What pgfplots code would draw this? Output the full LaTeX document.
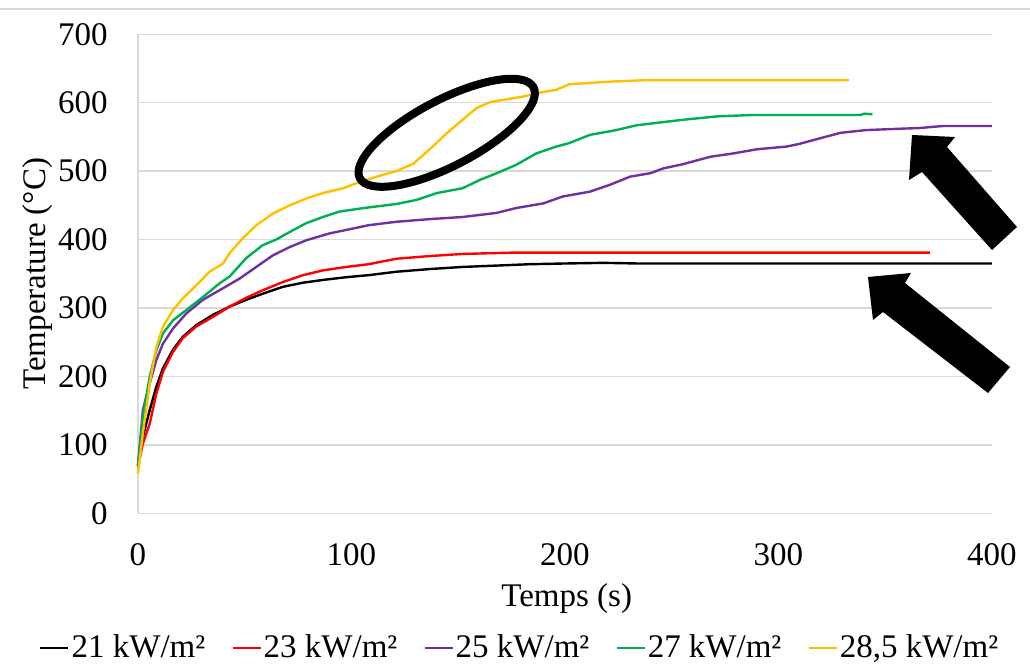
\documentclass[border=0pt]{standalone}
\usepackage{fontspec}
\setmainfont{Liberation Serif}
\usepackage{pgfplots}
\pgfplotsset{compat=1.18}
\definecolor{cpurple}{HTML}{7030A0}
\definecolor{cgreen}{HTML}{00B050}
\definecolor{cyellow}{HTML}{FFC000}
\definecolor{cred}{HTML}{FF0000}
\definecolor{cgrid}{HTML}{D9D9D9}
\newcommand{\fs}{\fontsize{16.5}{19}\selectfont}
\begin{document}
\begin{tikzpicture}
\begin{axis}[
  scale only axis, width=427pt, height=239.5pt,
  xmin=0, xmax=400, ymin=0, ymax=700,
  xtick={0,100,...,400}, ytick={0,100,...,700},
  axis x line*=bottom, axis y line*=left,
  axis line style={-, draw=cgrid, line width=0.75pt},
  ymajorgrids, grid style={draw=cgrid, line width=0.75pt},
  major tick length=0pt,
  font=\fs,
  /pgf/number format/assume math mode=true,
  ticklabel style={font=\fs},
  yticklabel style={anchor=east, inner sep=0pt, xshift=-15pt},
  xticklabel style={anchor=north, inner sep=0pt, yshift=-15pt},
  xlabel={Temps (s)}, ylabel={Temperature (°C)},
  xlabel style={at={(axis description cs:0.502,-0.177)}, anchor=center, font=\fs},
  ylabel style={at={(axis description cs:-0.118,0.5)}, anchor=center, font=\fs},
  legend columns=-1,
  legend style={draw=none, fill=none, at={(axis description cs:0.447,-0.281)}, anchor=center, font=\fs,
    nodes={inner sep=1pt}, /tikz/every even column/.append style={column sep=12pt}},
  legend image code/.code={\draw[#1] (0pt,0pt) -- (14pt,0pt);},
  every axis plot/.append style={line width=1.2pt},
  clip=false,
]
\addplot[black] coordinates {(0,70) (2.3,112) (5.5,151) (8.6,185) (11.7,212) (16.4,239) (21,258) (27.3,275) (35.1,290) (42.9,302) (50.7,312) (58.5,321) (67.9,331) (77.3,337) (86.6,341) (97.5,345) (108,348) (121,353) (137,357) (152,360) (168,362) (183.5,364) (199,365) (218,366) (235,365) (250,365) (300,365) (350,365) (400,365)};
\addlegendentry{21 kW/m²}
\addplot[cred] coordinates {(0,68) (2.3,102) (5.5,131) (8.6,175) (11.7,207) (16.4,236) (21,256) (27.3,273) (35.1,287) (42.9,302) (50.7,315) (58.5,326) (67.9,338) (77.3,348) (86.6,355) (97.5,360) (108,364) (121,372) (137,376) (152,379) (176,381) (199,381) (250,381) (300,381) (371,381)};
\addlegendentry{23 kW/m²}
\addplot[cpurple] coordinates {(0,70) (2.3,151) (5.5,190) (8.6,224) (11.7,248) (16.4,270) (22.6,292) (30.4,312) (38.2,326) (47.6,343) (55.4,360) (63.2,377) (71,389) (78.8,399) (89.7,409) (99,415) (108,421) (121,426) (137,430) (152,433) (168,439) (177,446) (190,453) (199,463) (211.6,470) (221,480) (230.5,492) (240,497) (246,504) (255,510) (268,521) (279,526) (290,532) (304,536) (310,540) (319.4,548) (329,556) (341,560) (357,562) (366,563) (377,566) (400,566)};
\addlegendentry{25 kW/m²}
\addplot[cgreen] coordinates {(0,70) (2.3,141) (5.5,200) (8.6,238) (11.7,263) (16.4,282) (22.6,297) (30.4,316) (38.2,336) (42.9,346) (50.7,373) (58.5,392) (64.7,400) (71,411) (78.8,424) (86.6,433) (94.4,441) (105.5,446) (121,452) (130.5,458) (140,468) (152,475) (160,487) (168,497) (177,509) (186.6,526) (196,536) (202,541) (211.6,553) (224,560) (233.5,567) (244,571) (255,575) (271,580) (287,582) (338,582) (340.5,584) (344,583)};
\addlegendentry{27 kW/m²}
\addplot[cyellow] coordinates {(0,58) (2.3,117) (5.5,190) (8.6,243) (11.7,273) (16.4,297) (21,314) (27.3,333) (33.5,353) (39.8,365) (42.9,380) (49.1,402) (55.4,421) (63.2,438) (71,450) (78.8,460) (86.6,468) (96,475) (105.5,486) (113,493) (121,500) (129,511) (137,533) (144.5,555) (152,575) (158.5,592) (165,601) (172.6,605) (180.4,609) (186.6,614) (196,619) (202,627) (211.6,629) (222.5,631) (238,633) (333,633)};
\addlegendentry{28,5 kW/m²}
\coordinate (O) at (axis cs:0,0);
\end{axis}
% annotations in pixel units of the reference
\begin{scope}[shift={(O)}, shift={(-69pt,256.65pt)}, x=0.5pt, y=-0.5pt]
  \draw[cgrid, line width=0.75pt] (0,9) -- (1030,9);
  \fill[black] (912,135) -- (955,137) -- (947,147) -- (1017,227) -- (992,250) -- (922,172) -- (909,180) -- cycle;
  \fill[black] (868,277) -- (911,273) -- (905,283) -- (1010,367) -- (988,393) -- (883,312) -- (873,320) -- cycle;
\end{scope}
\begin{scope}[shift={(O)}, shift={(154.35pt,190.25pt)}, rotate=27.6]
  \draw[black, line width=4pt] (0,0) ellipse (49pt and 16.5pt);
\end{scope}
\pgfresetboundingbox
\path[use as bounding box] (O) ++(-69pt,-79.35pt) rectangle ++(515pt,336pt);
\end{tikzpicture}
\end{document}
